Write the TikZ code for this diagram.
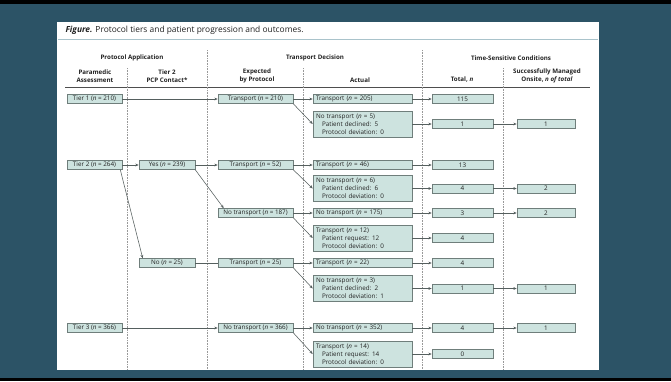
\documentclass[tikz,border=0pt]{standalone}
\usepackage{fontspec}
\setsansfont{Open Sans}
\usetikzlibrary{positioning,arrows.meta}
\definecolor{slidebg}{HTML}{2C5366}
\definecolor{boxfill}{HTML}{CDE3DF}
\definecolor{boxline}{HTML}{6F7E7B}
\definecolor{rulecol}{HTML}{A9C3CB}
\definecolor{inkcol}{HTML}{222222}
\definecolor{linkcol}{HTML}{555F5E}

\begin{document}
\begin{tikzpicture}[x=1pt,y=-1pt,font=\sffamily\fontsize{6.3}{7}\selectfont,text=inkcol,
    box/.style={draw=boxline,fill=boxfill,line width=0.6pt,minimum height=9pt,inner sep=0pt},
    tierbox/.style={box,minimum width=55pt},
    pcpbox/.style={box,minimum width=56pt},
    expbox/.style={box,minimum width=75pt},
    actbox/.style={box,text width=93pt,inner xsep=3pt,align=left},
    multibox/.style={actbox,minimum height=26pt,font=\sffamily\fontsize{6.3}{7.8}\selectfont},
    totbox/.style={box,minimum width=61pt},
    onsbox/.style={box,minimum width=58pt},
    head/.style={font=\sffamily\bfseries\fontsize{6.2}{8}\selectfont,align=center},
    link/.style={draw=linkcol,line width=0.55pt},
    arr/.style={link,-{Stealth[length=3.4pt,width=2.8pt]}},
    sep/.style={draw=gray!80,densely dotted,line width=0.6pt}]
  \useasboundingbox (0,0) rectangle (671,381);
  % slide and page
  \fill[slidebg] (0,0) rectangle (671,381);
  \fill[black] (0,0) rectangle (671,4);
  \fill[black] (0,378) rectangle (671,381);
  \fill[white] (57,22) rectangle (599,370);

  % title and rules
  \node[anchor=west,font=\sffamily\fontsize{8.4}{10}\selectfont] (title) at (62,30)
    {\textbf{\textit{Figure.}} Protocol tiers and patient progression and outcomes.};
  \draw[rulecol,line width=0.9pt] (58,39) -- (598,39);
  \draw[inkcol!80,line width=0.5pt] (65,87) -- (590,87);

  % column separators
  \draw[sep] (127,68) -- (127,369);
  \draw[sep] (207,50) -- (207,369);
  \draw[sep] (303,68) -- (303,369);
  \draw[sep] (422,50) -- (422,369);
  \draw[sep] (503,68) -- (503,369);

  % headers
  \node[head] (hpa) at (132,58) {Protocol Application};
  \node[head] (htd) at (315,58) {Transport Decision};
  \node[head] (hts) at (511,58) {Time-Sensitive Conditions};
  \node[head] (hpm) at (95,76) {Paramedic\\Assessment};
  \node[head] (hpcp) at (167,76) {Tier 2\\PCP Contact*};
  \node[head] (hexp) at (257,76) {Expected\\by Protocol};
  \node[head] (hact) at (360,80) {Actual};
  \node[head] (htot) at (462,80) {Total, \textit{n}};
  \node[head] (hons) at (547,76) {Successfully Managed\\Onsite, \textit{n of total}};

  % paramedic assessment
  \node[tierbox] (t1) at (94.5,99) {Tier 1 (\textit{n} = 210)};
  \node[tierbox] (t2) at (94.5,165) {Tier 2 (\textit{n} = 264)};
  \node[tierbox] (t3) at (94.5,328) {Tier 3 (\textit{n} = 366)};

  % tier 2 pcp contact
  \node[pcpbox] (yes) at (167,165) {Yes (\textit{n} = 239)};
  \node[pcpbox] (no) at (167,263) {No (\textit{n} = 25)};

  % expected by protocol
  \node[expbox] (e1) at (255.5,99) {Transport (\textit{n} = 210)};
  \node[expbox] (e2) at (255.5,165) {Transport (\textit{n} = 52)};
  \node[expbox] (e3) at (255.5,213) {No transport (\textit{n} = 187)};
  \node[expbox] (e4) at (255.5,263) {Transport (\textit{n} = 25)};
  \node[expbox] (e5) at (255.5,328) {No transport (\textit{n} = 366)};

  % actual
  \node[actbox] (a1) at (362.5,99) {Transport (\textit{n} = 205)};
  \node[multibox] (a2) at (362.5,124) {No transport (\textit{n} = 5)\\\hspace*{6pt}Patient declined: 5\\\hspace*{6pt}Protocol deviation: 0};
  \node[actbox] (a3) at (362.5,165) {Transport (\textit{n} = 46)};
  \node[multibox] (a4) at (362.5,188.5) {No transport (\textit{n} = 6)\\\hspace*{6pt}Patient declined: 6\\\hspace*{6pt}Protocol deviation: 0};
  \node[actbox] (a5) at (362.5,213) {No transport (\textit{n} = 175)};
  \node[multibox] (a6) at (362.5,238) {Transport (\textit{n} = 12)\\\hspace*{6pt}Patient request: 12\\\hspace*{6pt}Protocol deviation: 0};
  \node[actbox] (a7) at (362.5,263) {Transport (\textit{n} = 22)};
  \node[multibox] (a8) at (362.5,288.5) {No transport (\textit{n} = 3)\\\hspace*{6pt}Patient declined: 2\\\hspace*{6pt}Protocol deviation: 1};
  \node[actbox] (a9) at (362.5,328) {No transport (\textit{n} = 352)};
  \node[multibox] (a10) at (362.5,354) {Transport (\textit{n} = 14)\\\hspace*{6pt}Patient request: 14\\\hspace*{6pt}Protocol deviation: 0};

  % total
  \node[totbox] (n1) at (462.5,99) {115};
  \node[totbox] (n2) at (462.5,124) {1};
  \node[totbox] (n3) at (462.5,165) {13};
  \node[totbox] (n4) at (462.5,188.5) {4};
  \node[totbox] (n5) at (462.5,213) {3};
  \node[totbox] (n6) at (462.5,238) {4};
  \node[totbox] (n7) at (462.5,263) {4};
  \node[totbox] (n8) at (462.5,288.5) {1};
  \node[totbox] (n9) at (462.5,328) {4};
  \node[totbox] (n10) at (462.5,354) {0};

  % managed onsite
  \node[onsbox] (s2) at (546,124) {1};
  \node[onsbox] (s4) at (546,188.5) {2};
  \node[onsbox] (s5) at (546,213) {2};
  \node[onsbox] (s8) at (546,288.5) {1};
  \node[onsbox] (s9) at (546,328) {1};

  % connectors
  \draw[arr] (t1) -- (e1);
  \draw[arr] (t2) -- (yes);
  \draw[arr] ([xshift=-2pt]t2.south east) -- ([xshift=4pt]no.north west);
  \draw[arr] (t3) -- (e5);
  \draw[arr] (yes) -- (e2);
  \draw[arr] (yes.south east) -- ([xshift=6pt]e3.north west);
  \draw[link] (no) -- (e4);
  \foreach \e/\a/\b in {e1/a1/a2,e2/a3/a4,e3/a5/a6,e4/a7/a8,e5/a9/a10}{
    \draw[arr] (\e) -- (\a);
    \draw[arr] (\e.south east) -- (\b.west);
  }
  \foreach \i in {1,...,10}
    \draw[arr] (a\i) -- (n\i);
  \foreach \i in {2,4,5,8,9}
    \draw[arr] (n\i) -- (s\i);
\end{tikzpicture}
\end{document}
